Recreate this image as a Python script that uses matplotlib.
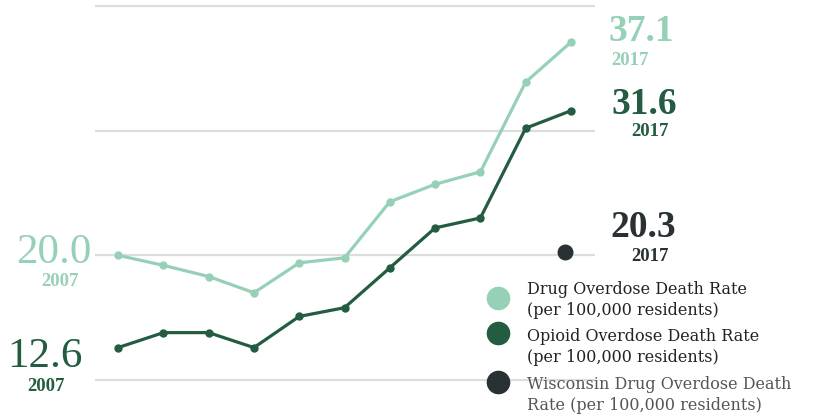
import matplotlib
matplotlib.use("Agg")
import matplotlib.pyplot as plt
from matplotlib.lines import Line2D

# data
years = [2007, 2008, 2009, 2010, 2011, 2012, 2013, 2014, 2015, 2016, 2017]
drug_rate = [20.0, 19.2, 18.3, 17.0, 19.4, 19.8, 24.3, 25.7, 26.7, 33.9, 37.1]
opioid_rate = [12.6, 13.8, 13.8, 12.6, 15.1, 15.8, 19.0, 22.2, 23.0, 30.2, 31.6]
wi_year = 2017
wi_rate = 20.3
grid_vals = [10, 20, 30, 40]
legend_labels = ["Drug Overdose Death Rate\n(per 100,000 residents)",
                 "Opioid Overdose Death Rate\n(per 100,000 residents)",
                 "Wisconsin Drug Overdose Death\nRate (per 100,000 residents)"]

light = "#96d0b7"
dark = "#235c40"
darkest = "#2a3134"

W, H = 814, 417
fig = plt.figure(figsize=(W / 100, H / 100), dpi=100)
ax = fig.add_axes([95 / W, 32 / H, 500 / W, 384 / H])
ax.set_xlim(2006.49, 2017.53)
ax.set_ylim(9.6, 40.4)
ax.axis("off")

for g in grid_vals:
    ax.axhline(g, color="#dddddd", lw=1.6, zorder=0)

ax.plot(years, drug_rate, color=light, lw=2.3, marker="o", ms=5, zorder=3)
ax.plot(years, opioid_rate, color=dark, lw=2.3, marker="o", ms=5, zorder=3)
ax.scatter([wi_year - 0.13], [wi_rate], s=110, color=darkest, zorder=3)

serif = ["Liberation Serif", "DejaVu Serif"]


def label(x, y, val, yr, col, dx, dy, dx2, dy2, big, weight):
    ax.annotate(val, (x, y), xytext=(dx, dy), textcoords="offset pixels",
                ha="center", va="center", fontsize=big, color=col,
                family=serif, fontweight=weight, annotation_clip=False)
    ax.annotate(yr, (x, y), xytext=(dx2, dy2), textcoords="offset pixels",
                ha="center", va="center", fontsize=13.5, color=col,
                family=serif, fontweight="bold", annotation_clip=False)


label(years[-1], drug_rate[-1], "%.1f" % drug_rate[-1], "2017", light, 70, 11, 59, -18, 27, "bold")
label(years[-1], opioid_rate[-1], "%.1f" % opioid_rate[-1], "2017", dark, 73, 6, 79, -21, 27, "bold")
label(wi_year, wi_rate, "%.1f" % wi_rate, "2017", darkest, 72, 24, 79, -5, 27, "bold")
label(years[0], drug_rate[0], "%.1f" % drug_rate[0], "2007", light, -64, 3, -58, -26, 31, "normal")
label(years[0], opioid_rate[0], "%.1f" % opioid_rate[0], "2007", dark, -73, -9, -72, -39, 31, "normal")

# legend drawn by hand
leg_cols = [light, dark, darkest]
leg_dot_y = [298, 333, 382]
leg_txt_y = [300, 347, 395]
leg_txt_col = ["#222222", "#222222", "#555555"]
for c, dy, ty, tc, lab in zip(leg_cols, leg_dot_y, leg_txt_y, leg_txt_col, legend_labels):
    fig.lines.append(Line2D([498 / W], [1 - dy / H], marker="o", ms=16,
                            color=c, transform=fig.transFigure, zorder=5))
    fig.text(527 / W, 1 - ty / H, lab, ha="left", va="center", fontsize=11.5,
             color=tc, family=["DejaVu Serif"], linespacing=1.25, zorder=6)

fig.savefig("out.png", dpi=100)
